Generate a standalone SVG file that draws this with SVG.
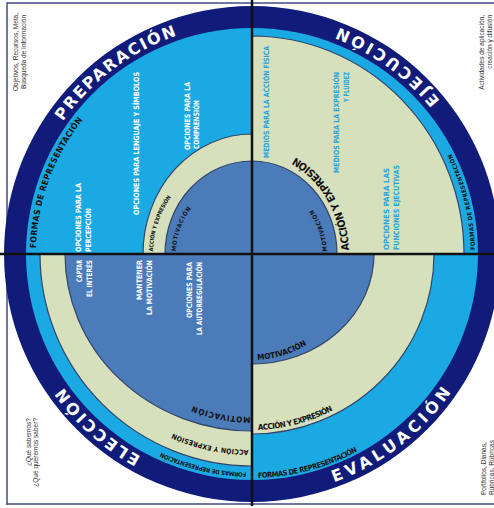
<svg xmlns="http://www.w3.org/2000/svg" width="494" height="508" viewBox="0 0 494 508">
  <style>
    .navy{fill:#101b7a}
    .sky{fill:#1ba9e4}
    .sage{fill:#d6e0bd;stroke:#33466a;stroke-width:1.2}
    .steel{fill:#4b7bb8;stroke:#33466a;stroke-width:1.2}
    .axis{stroke:#111;stroke-width:2.5}
    .frame{fill:none;stroke:#44498a;stroke-width:1.5}
    .ring{font-family:"DejaVu Sans",Verdana,sans-serif;font-weight:bold;font-size:16px;fill:#fff}
    .arc{font-family:"DejaVu Sans Condensed","DejaVu Sans",sans-serif;font-weight:bold;fill:#111}
    .v{font-family:"DejaVu Sans Condensed","Liberation Sans Narrow","Liberation Sans",sans-serif;font-weight:bold;font-size:7.5px}
    .w{fill:#fff}
    .b{fill:#2aa4de}
    .note{font-family:"Liberation Sans",Arial,sans-serif;font-size:6.5px;fill:#333}
  </style>
  <defs>
    <!-- outer ring labels -->
    <path id="p-prep" d="M62.8,121.5 A230,230 0 0 1 176.8,35.6"/>
    <path id="p-ejec" d="M439.9,100.7 A243,243 0 0 0 339.3,27.7"/>
    <path id="p-elec" d="M141.1,456.6 A230,230 0 0 1 63.3,387.2"/>
    <path id="p-eval" d="M334.1,482.2 A243,243 0 0 0 452.1,391"/>
    <!-- representation band -->
    <path id="f-tl" d="M36.1,248.3 A216,216 0 0 1 83,119.5"/>
    <path id="f-tr" d="M475,250.1 A223,223 0 0 0 450.7,152.8"/>
    <path id="f-br" d="M257.9,478 A224,224 0 0 0 360,450"/>
    <path id="f-bl" d="M246.3,472.5 A219,219 0 0 1 160,452"/>
    <!-- action and expression band -->
    <path id="a-tl" d="M153,251.4 A99,99 0 0 1 171.9,195.8"/>
    <path id="a-tr" d="M348.9,250.2 A97,108 0 0 0 289.9,154.6"/>
    <path id="a-bl" d="M248.6,450 A196,196 0 0 1 170,432"/>
    <path id="a-br" d="M258.1,429.9 A176,176 0 0 0 334.6,409.4"/>
    <!-- motivation core -->
    <path id="m-tl" d="M176,251.3 A76,76 0 0 1 192.1,207.2"/>
    <path id="m-tr" d="M327,251.4 A75,75 0 0 0 311.1,207.8"/>
    <path id="m-bl" d="M250.6,417 A163,163 0 0 1 190.9,405.1"/>
    <path id="m-br" d="M257.5,359.9 A106,106 0 0 0 308.2,343.9"/>
  </defs>

  <rect width="494" height="508" fill="#fff"/>
  <path class="frame" d="M7,505 V3 H494 M7,504 H494"/>

  <g id="wheel">
    <circle class="navy" cx="252" cy="254" r="248"/>
    <circle class="sky" cx="252" cy="254" r="226"/>
  </g>

  <g id="preparacion">
    <path class="sage" d="M252,254 L143,254 A109,120 0 0 1 252,134 Z"/>
    <path class="steel" d="M252,254 L165,254 A87,93 0 0 1 252,161 Z"/>
    <text class="ring"><textPath href="#p-prep" textLength="145" lengthAdjust="spacing">PREPARACIÓN</textPath></text>
    <text class="arc" font-size="8.5"><textPath href="#f-tl" textLength="139" lengthAdjust="spacing">FORMAS DE REPRESENTACIÓN</textPath></text>
    <text class="arc" font-size="5.5"><textPath href="#a-tl" textLength="58" lengthAdjust="spacing">ACCIÓN Y EXPRESIÓN</textPath></text>
    <text class="arc" font-size="6"><textPath href="#m-tl" textLength="46" lengthAdjust="spacing">MOTIVACIÓN</textPath></text>
    <text class="v w" transform="translate(81,252) rotate(-90)" textLength="69" lengthAdjust="spacingAndGlyphs">OPCIONES PARA LA</text>
    <text class="v w" transform="translate(91,252) rotate(-90)" textLength="44" lengthAdjust="spacingAndGlyphs">PERCEPCIÓN</text>
    <text class="v w" transform="translate(139,215) rotate(-90)" textLength="143" lengthAdjust="spacingAndGlyphs">OPCIONES PARA LENGUAJE Y SÍMBOLOS</text>
    <text class="v w" transform="translate(190,150) rotate(-90)" textLength="68" lengthAdjust="spacingAndGlyphs">OPCIONES PARA LA</text>
    <text class="v w" transform="translate(199,149) rotate(-90)" textLength="49" lengthAdjust="spacingAndGlyphs">COMPRENSIÓN</text>
  </g>

  <g id="ejecucion">
    <path class="sage" d="M252,254 L252,36 A212,218 0 0 1 464,254 Z"/>
    <path class="steel" d="M252,254 L252,161 A85,93 0 0 1 337,254 Z"/>
    <text class="ring"><textPath href="#p-ejec" textLength="126" lengthAdjust="spacing">EJECUCIÓN</textPath></text>
    <text class="arc" font-size="6"><textPath href="#f-tr" textLength="100" lengthAdjust="spacing">FORMAS DE REPRESENTACIÓN</textPath></text>
    <text class="arc" font-size="10.5"><textPath href="#a-tr" textLength="112" lengthAdjust="spacing">ACCIÓN Y EXPRESIÓN</textPath></text>
    <text class="arc" font-size="6"><textPath href="#m-tr" textLength="45" lengthAdjust="spacing">MOTIVACIÓN</textPath></text>
    <text class="v b" transform="translate(269,158) rotate(-90)" textLength="112" lengthAdjust="spacingAndGlyphs">MEDIOS PARA LA ACCIÓN FÍSICA</text>
    <text class="v b" transform="translate(339,72) rotate(-90)" text-anchor="end" textLength="101" lengthAdjust="spacingAndGlyphs">MEDIOS PARA LA EXPRESIÓN</text>
    <text class="v b" transform="translate(349,72) rotate(-90)" text-anchor="end" textLength="30" lengthAdjust="spacingAndGlyphs">Y FLUIDEZ</text>
    <text class="v b" transform="translate(389,250) rotate(-90)" textLength="82" lengthAdjust="spacingAndGlyphs">OPCIONES PARA LAS</text>
    <text class="v b" transform="translate(399,250) rotate(-90)" textLength="85" lengthAdjust="spacingAndGlyphs">FUNCIONES EJECUTIVAS</text>
  </g>

  <g id="evaluacion">
    <path class="sage" d="M252,254 L434,254 A182,180 0 0 1 252,434 Z"/>
    <path class="steel" d="M252,254 L374,254 A122,110 0 0 1 252,364 Z"/>
    <text class="ring"><textPath href="#p-eval" textLength="150" lengthAdjust="spacing">EVALUACIÓN</textPath></text>
    <text class="arc" font-size="7.5"><textPath href="#f-br" textLength="104" lengthAdjust="spacing">FORMAS DE REPRESENTACIÓN</textPath></text>
    <text class="arc" font-size="8"><textPath href="#a-br" textLength="78" lengthAdjust="spacing">ACCIÓN Y EXPRESIÓN</textPath></text>
    <text class="arc" font-size="8"><textPath href="#m-br" textLength="52" lengthAdjust="spacing">MOTIVACIÓN</textPath></text>
  </g>

  <g id="eleccion">
    <path class="sage" d="M252,254 L252,466 A212,212 0 0 1 40,254 Z"/>
    <path class="steel" d="M252,254 L252,431 A187,177 0 0 1 65,254 Z"/>
    <text class="ring"><textPath href="#p-elec" textLength="105" lengthAdjust="spacing">ELECCIÓN</textPath></text>
    <text class="arc" font-size="6"><textPath href="#f-bl" textLength="88" lengthAdjust="spacing">FORMAS DE REPRESENTACIÓN</textPath></text>
    <text class="arc" font-size="7"><textPath href="#a-bl" textLength="78" lengthAdjust="spacing">ACCIÓN Y EXPRESIÓN</textPath></text>
    <text class="arc" font-size="8"><textPath href="#m-bl" textLength="59" lengthAdjust="spacing">MOTIVACIÓN</textPath></text>
    <text class="v w" transform="translate(82,260) rotate(-90)" text-anchor="end" textLength="22" lengthAdjust="spacingAndGlyphs">CAPTAR</text>
    <text class="v w" transform="translate(92,260) rotate(-90)" text-anchor="end" textLength="37" lengthAdjust="spacingAndGlyphs">EL INTERÉS</text>
    <text class="v w" transform="translate(142,260) rotate(-90)" text-anchor="end" textLength="40" lengthAdjust="spacingAndGlyphs">MANTENER</text>
    <text class="v w" transform="translate(152,260) rotate(-90)" text-anchor="end" textLength="55" lengthAdjust="spacingAndGlyphs">LA MOTIVACIÓN</text>
    <text class="v w" transform="translate(192,262) rotate(-90)" text-anchor="end" textLength="56" lengthAdjust="spacingAndGlyphs">OPCIONES PARA</text>
    <text class="v w" transform="translate(202,262) rotate(-90)" text-anchor="end" textLength="73" lengthAdjust="spacingAndGlyphs">LA AUTORREGULACIÓN</text>
  </g>

  <g id="axes">
    <line class="axis" x1="252" y1="0" x2="252" y2="506"/>
    <line class="axis" x1="0" y1="254" x2="494" y2="254"/>
  </g>

  <g id="notes">
    <text class="note" transform="translate(18,52) rotate(-90)" text-anchor="middle">Objetivos, Recursos, Meta,</text>
    <text class="note" transform="translate(26,52) rotate(-90)" text-anchor="middle">Búsqueda de Información</text>
    <text class="note" transform="translate(484,15) rotate(-90)" text-anchor="end">Actividades de aplicación,</text>
    <text class="note" transform="translate(492,15) rotate(-90)" text-anchor="end">creación y difusión</text>
    <text class="note" transform="translate(31,418) rotate(-90)" text-anchor="end">¿Qué sabemos?</text>
    <text class="note" transform="translate(38,418) rotate(-90)" text-anchor="end">¿Qué queremos saber?</text>
    <text class="note" transform="translate(486,495) rotate(-90)">Portfolios, Dianas,</text>
    <text class="note" transform="translate(494,495) rotate(-90)">Rúbricas, Rúbricas</text>
  </g>
</svg>
